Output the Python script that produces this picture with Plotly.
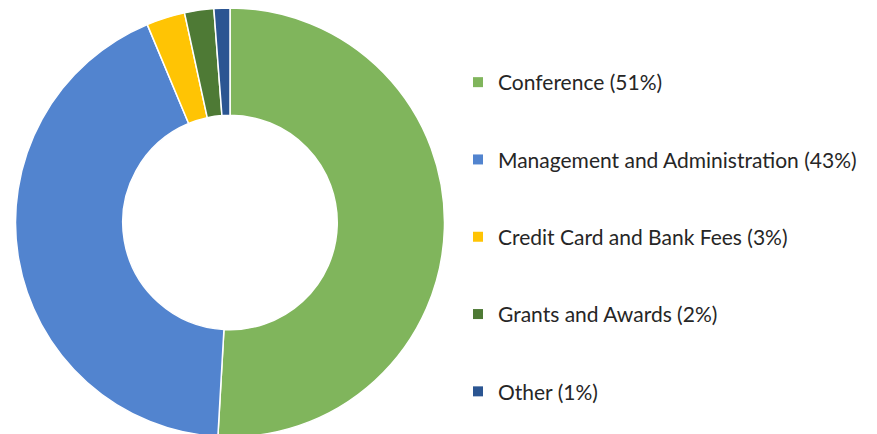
import plotly.graph_objects as go

labels = ["Conference", "Management and Administration", "Credit Card and Bank Fees",
          "Grants and Awards", "Other"]
values = [50.9, 42.8, 2.9, 2.2, 1.2]
legend_text = ["Conference (51%)", "Management and Administration (43%)",
               "Credit Card and Bank Fees (3%)", "Grants and Awards (2%)", "Other (1%)"]
colors = ["#80B55C", "#5284CF", "#FFC404", "#4E7A35", "#2B5592"]

W, H = 877, 434
fig = go.Figure()
fig.add_trace(go.Pie(
    labels=labels, values=values, hole=0.5, sort=False, direction="clockwise",
    rotation=0, textinfo="none", showlegend=False, hoverinfo="label+percent",
    marker=dict(colors=colors, line=dict(color="white", width=1.5)),
    domain=dict(x=[7.5/W, 436.5/W], y=[5/H, 1]),
))
for i, (t, c) in enumerate(zip(legend_text, colors)):
    fig.add_trace(go.Scatter(
        x=[None], y=[None], mode="markers", name=t, legendgroup=f"g{i}",
        marker=dict(symbol="square", size=10, color=c),
    ))

fig.update_layout(
    width=W, height=H,
    margin=dict(l=0, r=0, t=0, b=0),
    paper_bgcolor="white", plot_bgcolor="white",
    xaxis=dict(visible=False), yaxis=dict(visible=False),
    font=dict(family="Lato", size=21, color="#262626"),
    legend=dict(x=450/W, xanchor="left", y=1 - 54/H, yanchor="top",
                tracegroupgap=47, traceorder="grouped",
                font=dict(family="Lato", size=21, color="#262626")),
)
fig.write_html("out.html")
